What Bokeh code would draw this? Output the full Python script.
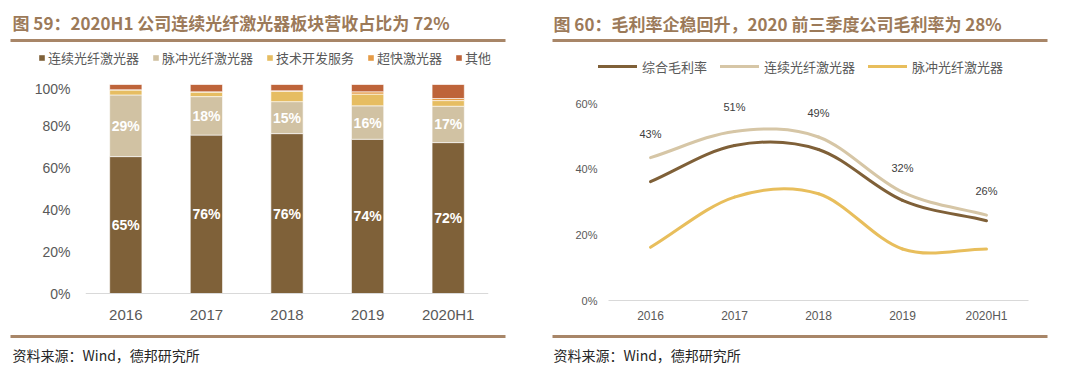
from bokeh.plotting import figure
from bokeh.models import (FactorRange, Range1d, FixedTicker, PrintfTickFormatter, Label,
                          BoxAnnotation, Legend, LegendItem, ColumnDataSource, Span)
from bokeh.layouts import row, column
from bokeh.embed import file_html
from bokeh.resources import INLINE
from bokeh.core.properties import value

# ---------------- data: left chart (revenue share, %) ----------------
years_left = ["2016", "2017", "2018", "2019", "2020H1"]
series_left = ["连续光纤激光器", "脉冲光纤激光器", "技术开发服务", "超快激光器", "其他"]
cw_laser = [65.5, 75.8, 76.5, 73.8, 72.2]
pulse_laser = [29.5, 18.4, 15.3, 16.0, 17.4]
tech_service = [2.4, 2.2, 5.0, 5.6, 2.7]
ultrafast = [0.1, 0.1, 0.2, 1.1, 1.0]
others = [2.5, 3.5, 3.0, 3.5, 6.7]
cw_labels = ["65%", "76%", "76%", "74%", "72%"]
pulse_labels = ["29%", "18%", "15%", "16%", "17%"]
left_ticks = [0, 20, 40, 60, 80, 100]

# ---------------- data: right chart (gross margin, %) ----------------
years_right = ["2016", "2017", "2018", "2019", "2020H1"]
series_right = ["综合毛利率", "连续光纤激光器", "脉冲光纤激光器"]
gross_margin = [36.2, 47.2, 46.0, 30.5, 24.3]
cw_margin = [43.5, 51.5, 49.8, 33.0, 26.0]
pulse_margin = [16.2, 31.5, 32.5, 15.7, 15.7]
cw_margin_labels = ["43%", "51%", "49%", "32%", "26%"]
right_ticks = [0, 20, 40, 60]

# ---------------- texts ----------------
title_left = "图 59：2020H1 公司连续光纤激光器板块营收占比为 72%"
title_right = "图 60：毛利率企稳回升，2020 前三季度公司毛利率为 28%"
source_text = "资料来源：Wind，德邦研究所"

# ---------------- styles ----------------
CJK = "Noto Sans CJK SC"
NUM = "Liberation Sans"
TITLE_C = "#9C7A59"
RULE_C = "#A88668"
AXIS_TXT = "#595959"
bar_colors = ["#7F6139", "#D1C2A3", "#E6BD62", "#E59B47", "#BE643A"]
line_colors = ["#7F6038", "#D6C6A6", "#E8BE5C"]

W1, W2 = 540, 524
W = W1 + W2
HEAD_H, MID_H, FOOT_H = 80, 250, 36


def blank_fig(w, h):
    f = figure(width=w, height=h, x_range=Range1d(0, w), y_range=Range1d(h, 0),
               output_backend="svg", toolbar_location=None, x_axis_location=None,
               y_axis_location=None, min_border=0)
    f.min_border_left = f.min_border_right = f.min_border_top = f.min_border_bottom = 0
    f.xgrid.visible = False
    f.ygrid.visible = False
    f.outline_line_color = None
    return f


def add_text(f, x, y, text, size, color, bold=False):
    f.add_layout(Label(x=x, y=y, text=text, text_font=CJK, text_font_size=f"{size}px",
                       text_color=color, text_font_style="bold" if bold else "normal",
                       text_align="left", text_baseline="middle"))


def add_rule(f, x0, x1, y, thick=3):
    f.add_layout(BoxAnnotation(left=x0, right=x1, top=y - thick / 2, bottom=y + thick / 2,
                               fill_color=RULE_C, fill_alpha=1, line_color=None))


# ================= header (titles, rules, legends) =================
head = blank_fig(W, HEAD_H)
add_text(head, 12, 22, title_left, 17, TITLE_C, bold=True)
add_text(head, 553, 23, title_right, 17, TITLE_C, bold=True)
add_rule(head, 10, 505, 40)
add_rule(head, 552, 1047, 40)

# legend key glyphs (kept outside the visible area of the header)
proxy_bars = [head.rect(x=[-100], y=[-100], width=1, height=1, fill_color=c, line_color=None)
              for c in bar_colors]
proxy_lines = [head.line(x=[-100, -90], y=[-100, -100], line_color=c, line_width=3,
                         line_cap="round") for c in line_colors]
legend_style = dict(orientation="horizontal", padding=0, margin=0, label_height=20,
                    label_text_font=CJK, label_text_font_size="13px",
                    label_text_color=AXIS_TXT, border_line_color=None,
                    background_fill_alpha=0)
leg1 = Legend(items=[LegendItem(label=n, renderers=[r]) for n, r in zip(series_left, proxy_bars)],
              location=(38, HEAD_H - (57 + 10)), glyph_width=7, glyph_height=7,
              label_standoff=3, spacing=13, **legend_style)
leg2 = Legend(items=[LegendItem(label=n, renderers=[r]) for n, r in zip(series_right, proxy_lines)],
              location=(598, HEAD_H - (66 + 10)), glyph_width=39, glyph_height=20,
              label_standoff=5, spacing=13, **legend_style)
head.add_layout(leg1)
head.add_layout(leg2)


def style_axes(p, xsize, ysize, xstand, ystand):
    for ax in (p.xaxis[0], p.yaxis[0]):
        ax.major_tick_line_color = None
        ax.minor_tick_line_color = None
        ax.major_tick_out = 0
        ax.major_tick_in = 0
        ax.major_label_text_color = AXIS_TXT
        ax.major_label_text_font = NUM
    p.xaxis.major_label_text_font_size = f"{xsize}px"
    p.yaxis.major_label_text_font_size = f"{ysize}px"
    p.xaxis.major_label_standoff = xstand
    p.yaxis.major_label_standoff = ystand
    p.yaxis.axis_line_color = None
    p.xgrid.visible = False
    p.ygrid.visible = False
    p.outline_line_color = None


# ================= left chart =================
# page-pixel layout of the plotting area (shared frame top/bottom in the row)
FR_TOP, FR_BOT = 84, 300
L_ZERO, L_FULL = 293, 84
px_per_pct = (L_ZERO - L_FULL) / 100.0
p1 = figure(width=W1, height=MID_H, x_range=FactorRange(*years_left, range_padding=0),
            y_range=Range1d(-(FR_BOT - L_ZERO) / px_per_pct, 100),
            output_backend="svg", toolbar_location=None,
            min_border_left=85, min_border_right=W1 - 488,
            min_border_top=FR_TOP - HEAD_H, min_border_bottom=HEAD_H + MID_H - FR_BOT)
src1 = ColumnDataSource(dict(year=years_left, s0=cw_laser, s1=pulse_laser, s2=tech_service,
                             s3=ultrafast, s4=others))
p1.vbar_stack(["s0", "s1", "s2", "s3", "s4"], x="year", width=0.4, color=bar_colors,
              line_color="white", line_width=0.6, source=src1)
cw_mid = [v / 2 for v in cw_laser]
pulse_mid = [c + v / 2 for c, v in zip(cw_laser, pulse_laser)]
for ys, labs in ((cw_mid, cw_labels), (pulse_mid, pulse_labels)):
    p1.text(x=years_left, y=ys, text=labs, text_color="white", text_font=value(NUM),
            text_font_size="14px", text_font_style="bold", text_align="center",
            text_baseline="middle")
p1.add_layout(Span(location=0, dimension="width", line_color="#D9D9D9", line_width=1.2))
p1.yaxis.ticker = FixedTicker(ticks=left_ticks)
p1.yaxis.formatter = PrintfTickFormatter(format="%d%%")
style_axes(p1, 15, 14, 5, 15)
p1.xaxis.axis_line_color = None


# ================= right chart =================
def bezier_segments(vals):
    """Excel-like smoothed curve: cubic Bezier pieces through the data points."""
    n = len(vals)
    xs = [i + 0.5 for i in range(n)]
    m = []
    for i in range(n):
        if i == 0:
            m.append(vals[1] - vals[0])
        elif i == n - 1:
            m.append(vals[-1] - vals[-2])
        else:
            m.append((vals[i + 1] - vals[i - 1]) / 2)
    seg = dict(x0=[], y0=[], x1=[], y1=[], cx0=[], cy0=[], cx1=[], cy1=[])
    for i in range(n - 1):
        seg["x0"].append(xs[i]); seg["y0"].append(vals[i])
        seg["x1"].append(xs[i + 1]); seg["y1"].append(vals[i + 1])
        seg["cx0"].append(xs[i] + 1 / 3); seg["cy0"].append(vals[i] + m[i] / 3)
        seg["cx1"].append(xs[i + 1] - 1 / 3); seg["cy1"].append(vals[i + 1] - m[i + 1] / 3)
    return seg


R_ZERO, R_TOP60 = 300, 103
px_per_pt = (R_ZERO - R_TOP60) / 60.0
p2 = figure(width=W2, height=MID_H, x_range=FactorRange(*years_right, range_padding=0),
            y_range=Range1d(0, (FR_BOT - FR_TOP) / px_per_pt), output_backend="svg",
            toolbar_location=None, min_border_left=608 - W1, min_border_right=W - 1028,
            min_border_top=FR_TOP - HEAD_H, min_border_bottom=HEAD_H + MID_H - FR_BOT)
for vals, col in zip([gross_margin, cw_margin, pulse_margin], line_colors):
    p2.bezier(source=ColumnDataSource(bezier_segments(vals)), x0="x0", y0="y0", x1="x1",
              y1="y1", cx0="cx0", cy0="cy0", cx1="cx1", cy1="cy1", line_color=col,
              line_width=3, line_cap="round", line_join="round")
p2.text(x=years_right, y=cw_margin, text=cw_margin_labels, y_offset=-24, text_color="#404040",
        text_font=value(NUM), text_font_size="11px", text_align="center", text_baseline="middle")
p2.yaxis.ticker = FixedTicker(ticks=right_ticks)
p2.yaxis.formatter = PrintfTickFormatter(format="%d%%")
style_axes(p2, 12, 11, 8, 11)
p2.xaxis.axis_line_color = "#D9D9D9"
p2.xaxis.axis_line_width = 1.2

# ================= footer (rules, source) =================
foot = blank_fig(W, FOOT_H)
y_off = HEAD_H + MID_H
add_rule(foot, 10, 505, 336 - y_off)
add_rule(foot, 552, 1047, 336 - y_off)
add_text(foot, 12, 354 - y_off, source_text, 14, "#262626")
add_text(foot, 553, 354 - y_off, source_text, 14, "#262626")

layout = column(head, row(p1, p2), foot)
open("out.html", "w").write(file_html(layout, INLINE))
